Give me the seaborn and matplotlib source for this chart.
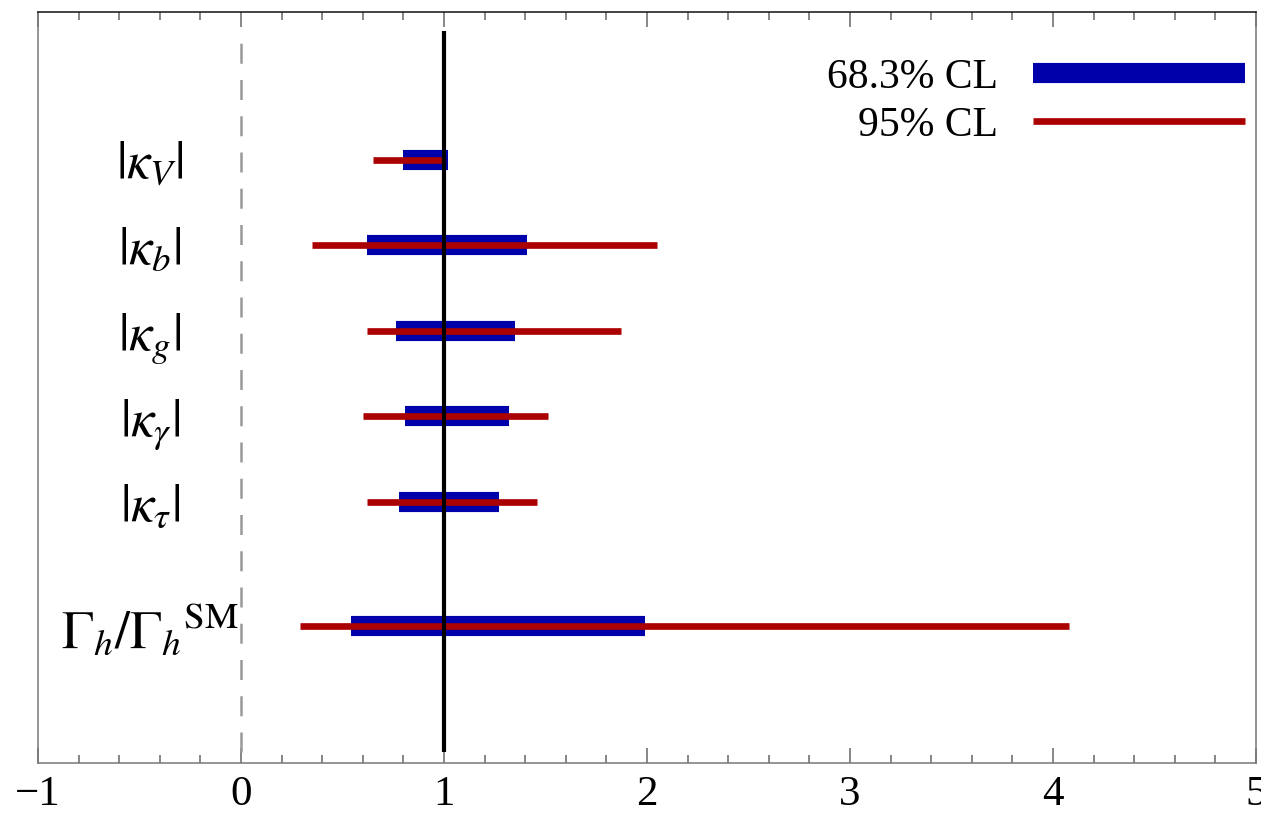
import numpy as np
import pandas as pd
import matplotlib.pyplot as plt
from matplotlib.lines import Line2D
from matplotlib.ticker import MultipleLocator
import seaborn as sns

sns.set_style("ticks")
plt.rcParams["font.family"] = ["Liberation Serif", "DejaVu Serif"]
plt.rcParams["mathtext.fontset"] = "stix"
plt.rcParams["text.color"] = "black"
plt.rcParams["xtick.labelcolor"] = "black"
plt.rcParams["ytick.labelcolor"] = "black"

# coupling fit results
params = [r"$|\kappa_V|$", r"$|\kappa_b|$", r"$|\kappa_g|$",
          r"$|\kappa_\gamma|$", r"$|\kappa_\tau|$",
          r"$\Gamma_h/\Gamma_h{}^{\mathrm{SM}}$"]
lo68 = [0.80, 0.62, 0.765, 0.81, 0.78, 0.54]
hi68 = [1.02, 1.41, 1.35, 1.32, 1.27, 1.99]
lo95 = [0.65, 0.35, 0.62, 0.60, 0.62, 0.29]
hi95 = [1.00, 2.05, 1.87, 1.51, 1.46, 4.08]
cl_labels = ["68.3% CL", "95% CL"]

BLUE = "#0000aa"
RED = "#aa0000"

# vertical layout: five kappa rows evenly spaced, width row set apart
ypos = [6, 5, 4, 3, 2, 0.55]

def to_long(lo, hi):
    rows = []
    for p, y, a, b in zip(params, ypos, lo, hi):
        rows.append({"param": p, "y": y, "x": a})
        rows.append({"param": p, "y": y, "x": b})
    return pd.DataFrame(rows)

df68 = to_long(lo68, hi68)
df95 = to_long(lo95, hi95)

fig = plt.figure(figsize=(12.61, 8.14), dpi=100)
ax = fig.add_axes([38 / 1261, (814 - 763) / 814, (1256 - 38) / 1261, (763 - 12) / 814])

ax.vlines(0, -0.93, 7.415, colors="#999999", linewidth=1.8,
          linestyles=(0, (8, 6.5)), zorder=1)

sns.lineplot(data=df68, x="x", y="y", units="param", estimator=None, sort=False,
             color=BLUE, linewidth=14.5, solid_capstyle="butt", legend=False,
             ax=ax, zorder=2)
sns.lineplot(data=df95, x="x", y="y", units="param", estimator=None, sort=False,
             color=RED, linewidth=4.8, solid_capstyle="butt", legend=False,
             ax=ax, zorder=3)

ax.vlines(1, -0.92, 7.51, colors="black", linewidth=3, zorder=4)

ax.set_xlim(-1, 5)
ax.set_ylim(-1.053, 7.731)
ax.set_xlabel("")
ax.set_ylabel("")

ax.xaxis.set_major_locator(MultipleLocator(1))
ax.xaxis.set_minor_locator(MultipleLocator(0.2))
ax.tick_params(axis="x", which="both", direction="in", top=True, bottom=True,
               color="#666666", width=1.1, labelsize=31, pad=9)
ax.tick_params(axis="x", which="major", length=11)
ax.tick_params(axis="x", which="minor", length=6)

ax.set_yticks(ypos)
ax.set_yticklabels(params)
ax.tick_params(axis="y", which="both", length=0, labelsize=38, pad=-80.6)
for lab in ax.get_yticklabels():
    lab.set_horizontalalignment("center")
ax.get_yticklabels()[-1].set_fontsize(38.5)

for side in ["left", "right", "bottom"]:
    ax.spines[side].set_color("#777777")
    ax.spines[side].set_linewidth(1.1)
ax.spines["top"].set_color("#111111")
ax.spines["top"].set_linewidth(1.1)

handles = [Line2D([], [], color=BLUE, linewidth=14.5, solid_capstyle="butt"),
           Line2D([], [], color=RED, linewidth=4.8, solid_capstyle="butt")]
ax.legend(handles, cl_labels, markerfirst=False, frameon=False,
          loc="upper right", bbox_to_anchor=(0.991, 0.938),
          borderaxespad=0, borderpad=0, fontsize=30,
          handlelength=5.1, handletextpad=0.84, labelspacing=0.22)

fig.savefig("out.png", dpi=100)
